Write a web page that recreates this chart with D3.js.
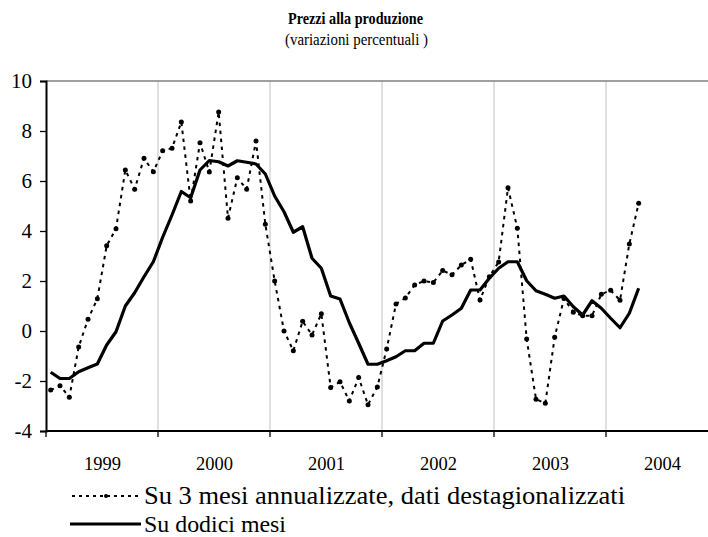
<!DOCTYPE html>
<html>
<head>
<meta charset="utf-8">
<script src="https://cdn.jsdelivr.net/npm/d3@7"></script>
<style>
  body { margin: 0; background: #fff; }
</style>
</head>
<body>
<svg id="chart" width="708" height="537"></svg>
<script>
// anni sull'asse x (12 mesi ciascuno)
var years = ["1999", "2000", "2001", "2002", "2003", "2004"];
var yTicks = [-4, -2, 0, 2, 4, 6, 8, 10];

// Su 3 mesi annualizzate, dati destagionalizzati (gen 1999 - apr 2004)
var tre = [-2.36, -2.19, -2.65, -0.64, 0.47, 1.29, 3.41, 4.09, 6.44, 5.67, 6.91, 6.37,
  7.21, 7.31, 8.36, 5.2, 7.53, 6.36, 8.76, 4.51, 6.13, 5.67, 7.6, 4.27,
  2.0, 0.0, -0.79, 0.39, -0.16, 0.69, -2.26, -2.03, -2.8, -1.86, -2.95, -2.24,
  -0.72, 1.08, 1.32, 1.84, 2.0, 1.94, 2.42, 2.25, 2.64, 2.87, 1.24, 2.17,
  2.76, 5.73, 4.11, -0.32, -2.73, -2.89, -0.25, 1.3, 0.75, 0.61, 0.61, 1.47,
  1.63, 1.23, 3.48, 5.11];

// Su dodici mesi
var dodici = [-1.65, -1.9, -1.9, -1.63, -1.47, -1.32, -0.56, -0.03, 1.0, 1.53, 2.17, 2.77,
  3.75, 4.64, 5.58, 5.33, 6.44, 6.82, 6.77, 6.6, 6.81, 6.75, 6.68, 6.28,
  5.4, 4.77, 3.95, 4.17, 2.91, 2.51, 1.4, 1.28, 0.33, -0.49, -1.33, -1.33,
  -1.19, -1.03, -0.79, -0.79, -0.49, -0.49, 0.4, 0.64, 0.91, 1.64, 1.64, 2.11,
  2.51, 2.77, 2.77, 2.01, 1.61, 1.47, 1.31, 1.4, 0.97, 0.64, 1.21, 0.91,
  0.51, 0.13, 0.71, 1.71];

var months = [];
years.forEach(function(y) {
  for (var m = 1; m <= 12; m++) months.push(y + "-" + m);
});

var serif = "Liberation Serif";
var cfg = { left: 46, right: 718, top: 81, bottom: 431 };
var svg = d3.select("#chart");

var x = d3.scaleBand().domain(months).range([cfg.left, cfg.right]);
var xYear = d3.scaleBand().domain(years).range([cfg.left, cfg.right]);
var y = d3.scaleLinear().domain([-4, 10]).range([cfg.bottom, cfg.top]);

function px(d, i) { return x(months[i]) + x.bandwidth() / 2; }

// titolo
svg.append("text")
  .attr("x", 288).attr("y", 24)
  .attr("textLength", 135).attr("lengthAdjust", "spacingAndGlyphs")
  .attr("font-family", serif)
  .style("font-weight", "bold").style("font-size", "17px")
  .text("Prezzi alla produzione");
svg.append("text")
  .attr("x", 285).attr("y", 45)
  .attr("textLength", 143).attr("lengthAdjust", "spacingAndGlyphs")
  .attr("font-family", serif)
  .style("font-size", "16px")
  .text("(variazioni percentuali )");

// griglia verticale
svg.append("g").selectAll("line")
  .data(years.slice(1))
  .enter().append("line")
  .attr("x1", function(d) { return xYear(d); })
  .attr("x2", function(d) { return xYear(d); })
  .attr("y1", cfg.top).attr("y2", cfg.bottom)
  .attr("stroke", "#c0c0c0").attr("stroke-width", 1);

// bordo superiore
svg.append("line")
  .attr("x1", cfg.left).attr("x2", cfg.right)
  .attr("y1", y(10)).attr("y2", y(10))
  .attr("stroke", "#808080").attr("stroke-width", 1.5);

// asse y
var yAxis = svg.append("g")
  .attr("transform", "translate(" + cfg.left + ",0)")
  .call(d3.axisLeft(y).tickValues(yTicks).tickSize(6).tickPadding(8).tickFormat(d3.format("d")));
yAxis.attr("font-family", serif).attr("font-size", 21);
yAxis.select(".domain").attr("stroke", "#000").attr("stroke-width", 2);
yAxis.selectAll(".tick line").attr("stroke", "#000").attr("stroke-width", 1.3);
yAxis.selectAll("text").attr("fill", "#000")
  .text(function(d) { return d < 0 ? "-" + Math.abs(d) : d; });

// asse x
var xg = svg.append("g");
xg.append("line")
  .attr("x1", cfg.left).attr("x2", cfg.right)
  .attr("y1", cfg.bottom).attr("y2", cfg.bottom)
  .attr("stroke", "#000").attr("stroke-width", 2);
xg.selectAll(".yt")
  .data(years.concat(["end"]))
  .enter().append("line")
  .attr("x1", function(d) { return d === "end" ? cfg.right : xYear(d); })
  .attr("x2", function(d) { return d === "end" ? cfg.right : xYear(d); })
  .attr("y1", cfg.bottom).attr("y2", cfg.bottom + 6)
  .attr("stroke", "#000").attr("stroke-width", 1.3);
xg.selectAll(".yl")
  .data(years)
  .enter().append("text")
  .attr("x", function(d) { return xYear(d) + xYear.bandwidth() / 2 - 18; })
  .attr("y", 470)
  .attr("textLength", 37).attr("lengthAdjust", "spacingAndGlyphs")
  .attr("font-family", serif)
  .style("font-size", "19px")
  .text(function(d) { return d; });

// serie tratteggiata
var line = d3.line().x(px).y(function(d) { return y(d); });

svg.append("path")
  .datum(tre)
  .attr("d", line)
  .attr("fill", "none")
  .attr("stroke", "#000")
  .attr("stroke-width", 2)
  .attr("stroke-dasharray", "3.5,4.5");

svg.append("g").selectAll("circle")
  .data(tre)
  .enter().append("circle")
  .attr("cx", px)
  .attr("cy", function(d) { return y(d); })
  .attr("r", 2.5)
  .attr("fill", "#000");

// serie continua
svg.append("path")
  .datum(dodici)
  .attr("d", line)
  .attr("fill", "none")
  .attr("stroke", "#000")
  .attr("stroke-width", 3.2)
  .attr("stroke-linejoin", "round");

// legenda
var leg = svg.append("g");
leg.append("line")
  .attr("x1", 72).attr("x2", 140).attr("y1", 496).attr("y2", 496)
  .attr("stroke", "#000").attr("stroke-width", 1.8).attr("stroke-dasharray", "3,4");
leg.append("circle").attr("cx", 106).attr("cy", 496).attr("r", 2).attr("fill", "#000");
leg.append("text")
  .attr("x", 144).attr("y", 504)
  .attr("font-family", serif)
  .attr("font-size", 25)
  .attr("textLength", 481).attr("lengthAdjust", "spacingAndGlyphs")
  .text("Su 3 mesi annualizzate, dati destagionalizzati");
leg.append("line")
  .attr("x1", 70).attr("x2", 141).attr("y1", 524).attr("y2", 524)
  .attr("stroke", "#000").attr("stroke-width", 3.2);
leg.append("text")
  .attr("x", 144).attr("y", 532)
  .attr("font-family", serif)
  .attr("font-size", 24)
  .attr("textLength", 142).attr("lengthAdjust", "spacingAndGlyphs")
  .text("Su dodici mesi");
</script>
</body>
</html>
